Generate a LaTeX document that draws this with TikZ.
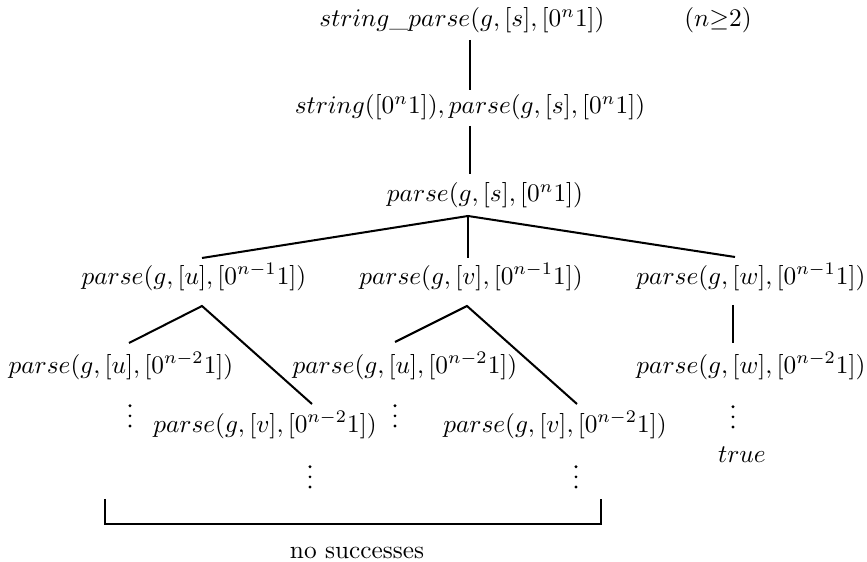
\documentclass[tikz,border=0pt]{standalone}
\begin{document}
\begin{tikzpicture}[x=0.395pt,y=-0.395pt,
  lbl/.style={inner sep=0pt, anchor=center},
  edge/.style={line width=0.8pt}]
\useasboundingbox (0,0) rectangle (867,562);
% labels
\node[lbl] (sp) at (462,20) {$string\_parse(g,[s],[0^n1])$};
\node[lbl] (cond) at (718,20) {$(n{\geq}2)$};
\node[lbl] (sp2) at (470,107) {$string([0^n1]), parse(g,[s],[0^n1])$};
\node[lbl] (ps) at (485,195) {$parse(g,[s],[0^n1])$};
\node[lbl] (pu) at (194,277) {$parse(g,[u],[0^{n-1}1])$};
\node[lbl] (pv) at (471,277) {$parse(g,[v],[0^{n-1}1])$};
\node[lbl] (pw) at (751,277) {$parse(g,[w],[0^{n-1}1])$};
\node[lbl] (puu) at (121,366) {$parse(g,[u],[0^{n-2}1])$};
\node[lbl] (pvu) at (405,366) {$parse(g,[u],[0^{n-2}1])$};
\node[lbl] (pww) at (751,366) {$parse(g,[w],[0^{n-2}1])$};
\node[lbl] (puv) at (265,425) {$parse(g,[v],[0^{n-2}1])$};
\node[lbl] (pvv) at (555,425) {$parse(g,[v],[0^{n-2}1])$};
\node[lbl] (tr) at (742,455) {$true$};
\node[lbl] (ns) at (357,553) {no successes};
% vertical dots (bottom dot centres)
\coordinate (d1) at (130,426);
\coordinate (d2) at (395,426);
\coordinate (d3) at (733,427);
\coordinate (d4) at (310,487);
\coordinate (d5) at (576,487);
\foreach \d in {d1,d2,d3,d4,d5}
  \foreach \k in {0,1,2}
    \fill ([yshift=\k*4pt]\d) circle[radius=0.6pt];
% connector points
\coordinate (a1) at (470,40);  \coordinate (a2) at (470,90);
\coordinate (b1) at (470,126); \coordinate (b2) at (470,174);
\coordinate (c0) at (468,216);
\coordinate (cl) at (202,258); \coordinate (cm) at (468,258); \coordinate (cr) at (735,257);
\coordinate (ul) at (202,306); \coordinate (ula) at (129,343); \coordinate (ulb) at (312,404);
\coordinate (vm) at (467,306); \coordinate (vma) at (395,342); \coordinate (vmb) at (577,404);
\coordinate (wt) at (733,305); \coordinate (wb) at (733,343);
\coordinate (k1) at (105,499); \coordinate (k2) at (105,524);
\coordinate (k3) at (601,524); \coordinate (k4) at (601,499);
% connectors
\draw[edge] (a1) -- (a2);
\draw[edge] (b1) -- (b2);
\draw[edge] (cl) -- (c0) -- (cr);
\draw[edge] (c0) -- (cm);
\draw[edge] (ula) -- (ul) -- (ulb);
\draw[edge] (vma) -- (vm) -- (vmb);
\draw[edge] (wt) -- (wb);
\draw[edge] (k1) -- (k2) -- (k3) -- (k4);
\end{tikzpicture}
\end{document}
